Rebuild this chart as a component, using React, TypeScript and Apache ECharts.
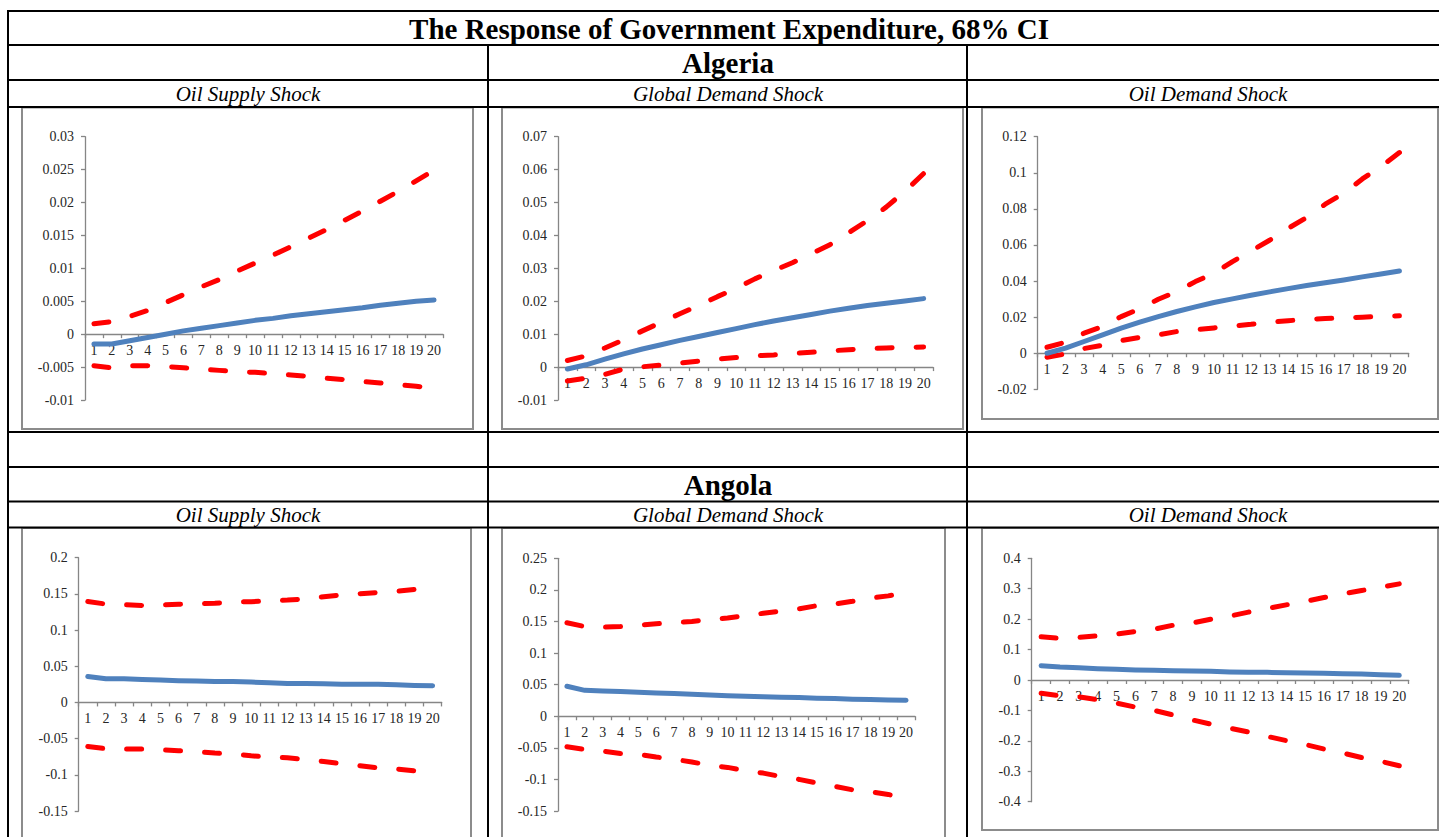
import React, { useEffect, useRef } from "react";
import * as echarts from "echarts";

const periods = ["1","2","3","4","5","6","7","8","9","10","11","12","13","14","15","16","17","18","19","20"];

const mainTitle = "The Response of Government Expenditure, 68% CI";
const countries = ["Algeria", "Angola"];
const shockNames = ["Oil Supply Shock", "Global Demand Shock", "Oil Demand Shock"];

// Algeria
const algSupplyMid = [-0.0015, -0.0015, -0.001, -0.0005, 0, 0.0005, 0.0009, 0.0013, 0.0017, 0.0021, 0.0024, 0.0028, 0.0031, 0.0034, 0.0037, 0.004, 0.0044, 0.0047, 0.005, 0.0052];
const algSupplyUp = [0.0016, 0.0019, 0.0027, 0.0036, 0.0048, 0.006, 0.0072, 0.0083, 0.0096, 0.0108, 0.012, 0.0133, 0.0146, 0.0159, 0.0173, 0.0187, 0.0202, 0.0217, 0.0233, 0.0249];
const algSupplyLo = [-0.0048, -0.0051, -0.0048, -0.0048, -0.0049, -0.0051, -0.0053, -0.0055, -0.0057, -0.0058, -0.006, -0.0062, -0.0064, -0.0067, -0.0069, -0.0072, -0.0074, -0.0077, -0.0079, -0.0083];

const algGlobalMid = [-0.0006, 0.0007, 0.0024, 0.004, 0.0055, 0.0068, 0.0081, 0.0093, 0.0105, 0.0117, 0.0129, 0.014, 0.015, 0.016, 0.017, 0.0179, 0.0187, 0.0194, 0.0201, 0.0208];
const algGlobalUp = [0.002, 0.0034, 0.0058, 0.0083, 0.011, 0.0136, 0.0162, 0.0187, 0.0214, 0.0239, 0.0268, 0.0293, 0.0317, 0.0344, 0.0372, 0.0408, 0.0445, 0.0486, 0.0534, 0.0588];
const algGlobalLo = [-0.0042, -0.0034, -0.0022, -0.0006, 0.0001, 0.0006, 0.0012, 0.0018, 0.0024, 0.0029, 0.0034, 0.0037, 0.0041, 0.0045, 0.0049, 0.0053, 0.0056, 0.0058, 0.006, 0.0061];

const algOilDemMid = [0, 0.0028, 0.0065, 0.0102, 0.0139, 0.0172, 0.0203, 0.0231, 0.0257, 0.0281, 0.0301, 0.0321, 0.034, 0.0358, 0.0375, 0.0391, 0.0406, 0.0423, 0.0439, 0.0456];
const algOilDemUp = [0.0033, 0.0061, 0.0111, 0.0148, 0.0203, 0.0246, 0.0299, 0.0342, 0.0397, 0.0443, 0.0508, 0.0566, 0.0626, 0.0692, 0.0752, 0.0826, 0.0886, 0.0966, 0.1034, 0.1112];
const algOilDemLo = [-0.0022, -0.0004, 0.0026, 0.0044, 0.007, 0.0088, 0.0102, 0.012, 0.013, 0.014, 0.015, 0.016, 0.0172, 0.018, 0.0188, 0.0192, 0.0196, 0.02, 0.0204, 0.0207];

// Angola
const angSupplyMid = [0.0359, 0.0327, 0.0327, 0.0318, 0.0309, 0.03, 0.0295, 0.029, 0.029, 0.0281, 0.0272, 0.0263, 0.0263, 0.0258, 0.0253, 0.0253, 0.0253, 0.0244, 0.0235, 0.023];
const angSupplyUp = [0.1395, 0.1359, 0.135, 0.134, 0.1345, 0.1357, 0.1362, 0.1372, 0.1385, 0.1393, 0.1405, 0.1414, 0.143, 0.146, 0.1485, 0.1503, 0.152, 0.1535, 0.156, 0.159];
const angSupplyLo = [-0.0608, -0.064, -0.0645, -0.0645, -0.0655, -0.0667, -0.068, -0.07, -0.071, -0.0738, -0.0755, -0.0765, -0.079, -0.0815, -0.0845, -0.0875, -0.0905, -0.092, -0.0945, -0.0965];

const angGlobalMid = [0.0474, 0.041, 0.04, 0.039, 0.0379, 0.0368, 0.0358, 0.0347, 0.0337, 0.0326, 0.0316, 0.031, 0.03, 0.0295, 0.0284, 0.0279, 0.0268, 0.0263, 0.0258, 0.0253];
const angGlobalUp = [0.1479, 0.142, 0.141, 0.142, 0.144, 0.1465, 0.148, 0.15, 0.153, 0.1555, 0.159, 0.163, 0.1665, 0.17, 0.175, 0.1775, 0.182, 0.187, 0.1905, 0.1953];
const angGlobalLo = [-0.0484, -0.0526, -0.0553, -0.059, -0.0605, -0.0645, -0.068, -0.0725, -0.0775, -0.081, -0.0863, -0.09, -0.0955, -0.1, -0.1055, -0.111, -0.1165, -0.1195, -0.1238, -0.131];

const angOilDemMid = [0.047, 0.0426, 0.0404, 0.0372, 0.035, 0.0328, 0.0317, 0.0306, 0.0295, 0.0284, 0.0262, 0.0251, 0.0251, 0.024, 0.023, 0.0219, 0.0208, 0.0197, 0.0175, 0.0153];
const angOilDemUp = [0.142, 0.1366, 0.14, 0.145, 0.151, 0.159, 0.167, 0.18, 0.187, 0.2, 0.21, 0.223, 0.235, 0.247, 0.258, 0.271, 0.283, 0.294, 0.305, 0.316];
const angOilDemLo = [-0.0437, -0.0514, -0.055, -0.065, -0.076, -0.089, -0.1, -0.115, -0.131, -0.145, -0.158, -0.171, -0.1855, -0.199, -0.212, -0.227, -0.24, -0.255, -0.267, -0.282];

// y-axis scales [min, max, interval]
const axisRanges = [
  [-0.01, 0.03, 0.005],
  [-0.01, 0.07, 0.01],
  [-0.02, 0.12, 0.02],
  [-0.15, 0.2, 0.05],
  [-0.15, 0.25, 0.05],
  [-0.4, 0.4, 0.1],
];

const seriesData = [
  [algSupplyLo, algSupplyUp, algSupplyMid],
  [algGlobalLo, algGlobalUp, algGlobalMid],
  [algOilDemLo, algOilDemUp, algOilDemMid],
  [angSupplyLo, angSupplyUp, angSupplyMid],
  [angGlobalLo, angGlobalUp, angGlobalMid],
  [angOilDemLo, angOilDemUp, angOilDemMid],
];

// layout (pixels)
const gridBoxes = [
  { left: 85, top: 136.7, width: 358, height: 263.3 },
  { left: 558, top: 136.7, width: 375, height: 263.3 },
  { left: 1037.7, top: 136.7, width: 371, height: 252.6 },
  { left: 78.7, top: 557.7, width: 363, height: 253.3 },
  { left: 558, top: 558.3, width: 357, height: 252.7 },
  { left: 1031.7, top: 558.3, width: 377, height: 243.4 },
];
const chartFrames = [
  { x: 22, y: 107.5, w: 451, h: 321.5 },
  { x: 502, y: 107.5, w: 461, h: 321.5 },
  { x: 982, y: 107.5, w: 456, h: 311.5 },
  { x: 22, y: 528, w: 449, h: 330 },
  { x: 502, y: 528, w: 443, h: 330 },
  { x: 982, y: 528, w: 456, h: 302 },
];

const SERIF = "'Liberation Serif', 'Times New Roman', serif";
const AXIS_GRAY = "#868686";
const LABEL_COLOR = "#262626";

export default function App() {
  const ref = useRef<HTMLDivElement>(null);
  useEffect(() => {
    if (!ref.current) return;
    const chart = echarts.init(ref.current, undefined, { renderer: "svg" });

    const grids: any[] = [];
    const xAxes: any[] = [];
    const yAxes: any[] = [];
    const series: any[] = [];
    gridBoxes.forEach((g, i) => {
      const [mn, mx, iv] = axisRanges[i];
      grids.push({ ...g, containLabel: false });
      // move the whole category axis (line, ticks, labels) up to the zero line
      const zeroOffset = -(g.height * (0 - mn)) / (mx - mn);
      xAxes.push({
        type: "category",
        gridIndex: i,
        data: periods,
        boundaryGap: true,
        position: "bottom",
        offset: zeroOffset,
        axisLine: { onZero: false, lineStyle: { color: AXIS_GRAY, width: 1.3 } },
        axisTick: { show: true, length: 4, lineStyle: { color: AXIS_GRAY, width: 1.3 } },
        axisLabel: { interval: 0, margin: 9, fontSize: 14, color: LABEL_COLOR, fontFamily: SERIF },
        splitLine: { show: false },
      });
      yAxes.push({
        type: "value",
        gridIndex: i,
        min: mn,
        max: mx,
        interval: iv,
        axisLine: { show: true, onZero: false, lineStyle: { color: AXIS_GRAY, width: 1.3 } },
        axisTick: { show: true, length: 4, lineStyle: { color: AXIS_GRAY, width: 1.3 } },
        axisLabel: { margin: 11, fontSize: 14, color: LABEL_COLOR, fontFamily: SERIF },
        splitLine: { show: false },
      });
      const [lo, up, mid] = seriesData[i];
      [lo, up].forEach((d) => {
        series.push({
          type: "line",
          xAxisIndex: i,
          yAxisIndex: i,
          data: d,
          symbol: "none",
          silent: true,
          lineStyle: { color: "#ff0000", width: 5, type: [15, 24], cap: "round" },
        });
      });
      series.push({
        type: "line",
        xAxisIndex: i,
        yAxisIndex: i,
        data: mid,
        symbol: "none",
        silent: true,
        lineStyle: { color: "#4f81bd", width: 5, cap: "round", join: "round" },
      });
    });

    const graphics: any[] = [];
    chartFrames.forEach((f) => {
      graphics.push({
        type: "rect",
        shape: { x: f.x, y: f.y, width: f.w, height: f.h },
        style: { fill: "#fff", stroke: "#8c8c8c", lineWidth: 2 },
        z: -10,
      });
    });
    const hLines = [11, 45, 80, 107, 432, 467, 501.5, 527.5];
    hLines.forEach((y) => {
      graphics.push({
        type: "line",
        shape: { x1: 7, y1: y, x2: 1439, y2: y },
        style: { stroke: "#000", lineWidth: 2 },
        z: 10,
      });
    });
    graphics.push({ type: "line", shape: { x1: 8, y1: 10, x2: 8, y2: 837 }, style: { stroke: "#000", lineWidth: 2 }, z: 10 });
    [488, 967].forEach((x) => {
      graphics.push({ type: "line", shape: { x1: x, y1: 45, x2: x, y2: 837 }, style: { stroke: "#000", lineWidth: 2 }, z: 10 });
    });

    const txt = (s: string, x: number, y: number, size: number, weight: string, fstyle: string) => ({
      type: "text",
      x,
      y,
      z: 11,
      style: {
        text: s,
        fill: "#000",
        font: `${fstyle} ${weight} ${size}px ${SERIF}`,
        textAlign: "center",
        textVerticalAlign: "middle",
      },
    });
    graphics.push(txt(mainTitle, 729, 29, 29, "bold", "normal"));
    graphics.push(txt(countries[0], 728, 63, 29, "bold", "normal"));
    graphics.push(txt(countries[1], 728, 484.5, 29, "bold", "normal"));
    const colCenters = [248, 728, 1208];
    colCenters.forEach((cx, k) => {
      graphics.push(txt(shockNames[k], cx, 93.5, 21, "normal", "italic"));
      graphics.push(txt(shockNames[k], cx, 514.5, 21, "normal", "italic"));
    });

    chart.setOption({
      animation: false,
      backgroundColor: "#fff",
      textStyle: { fontFamily: SERIF },
      grid: grids,
      xAxis: xAxes,
      yAxis: yAxes,
      series,
      graphic: graphics,
    });
    return () => chart.dispose();
  }, []);
  return (
    <div
      ref={ref}
      style={{ position: "absolute", left: 0, top: 0, width: 1439, height: 837, background: "#fff" }}
    />
  );
}
